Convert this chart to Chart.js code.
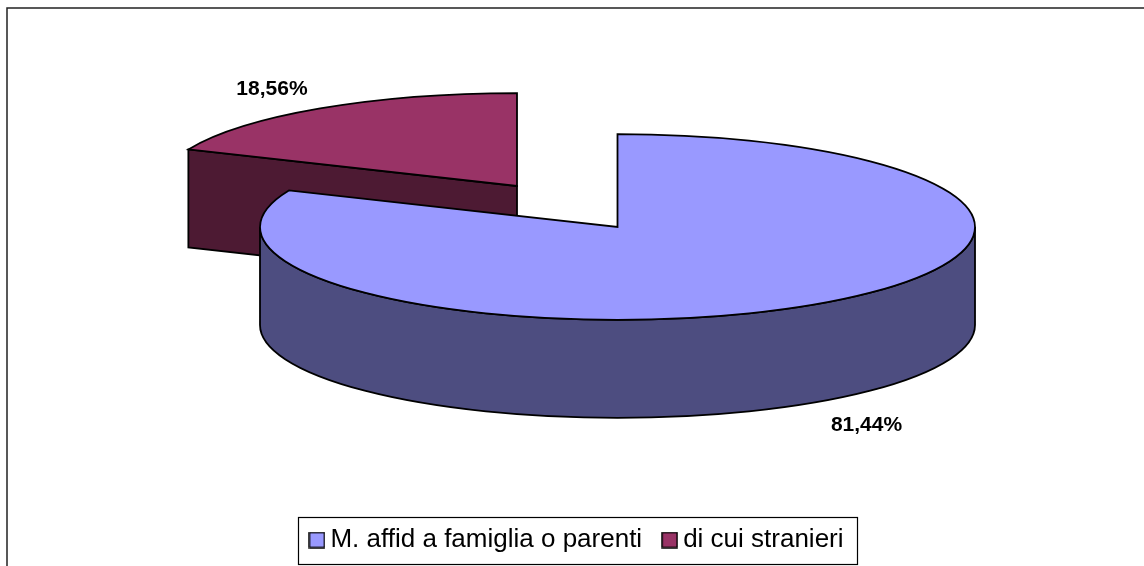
<!DOCTYPE html>
<html>
<head>
<meta charset="utf-8">
<title>Pie</title>
<script src="https://cdn.jsdelivr.net/npm/chart.js@4/dist/chart.umd.js"></script>
<style>
    html, body { margin: 0; padding: 0; background: #fff; overflow: hidden; }
    canvas { display: block; }
</style>
</head>
<body>
<canvas id="pieChart" width="1144" height="566"></canvas>
<script>
const categories = ['M. affid a famiglia o parenti', 'di cui stranieri'];
const shares = [81.44, 18.56];
const topColors = ['#9999FF', '#993366'];
const sideColors = ['#4D4D80', '#4D1A33'];

// 3D look, the library has no such thing so the plugin squashes the arcs
const tilt = 0.26;
const depth = 98;
const pullX = [0, -100.5];
const pullY = [0, -41];
const lineWidth = 1.8;

function markerFor(color) {
    const marker = document.createElement('canvas');
    marker.width = 17;
    marker.height = 17;
    const c = marker.getContext('2d');
    c.fillStyle = color;
    c.fillRect(1, 1, 15, 15);
    c.lineWidth = 1.5;
    c.strokeStyle = '#000';
    c.strokeRect(1, 1, 15, 15);
    return marker;
}

const pie3d = {
    id: 'pie3d',
    afterLayout(chart) {
        // legend sits off centre in the reference, keep it wide so it does not wrap
        chart.legend.left = 181;
        chart.legend.right = 979;
        chart.legend.top = 500;
        chart.legend.bottom = 566;
    },
    beforeDatasetsDraw(chart) {
        const ctx = chart.ctx;
        const arcs = chart.getDatasetMeta(0).data;
        const inTilt = (i, arc) => {
            ctx.translate(pullX[i], pullY[i]);
            ctx.translate(arc.x, arc.y);
            ctx.scale(1, tilt);
            ctx.translate(-arc.x, -arc.y);
        };
        const paint = (fill) => {
            ctx.fillStyle = fill;
            ctx.fill();
            ctx.lineWidth = lineWidth;
            ctx.strokeStyle = '#000';
            ctx.stroke();
        };

        // walls first, back slice before front slice
        for (let i = arcs.length - 1; i >= 0; i--) {
            const arc = arcs[i];
            const d = depth / tilt;
            const r = arc.outerRadius;

            if (Math.cos(arc.startAngle) < -1e-6) {
                ctx.save();
                inTilt(i, arc);
                const rimX = arc.x + Math.cos(arc.startAngle) * r;
                const rimY = arc.y + Math.sin(arc.startAngle) * r;
                ctx.beginPath();
                ctx.moveTo(arc.x, arc.y);
                ctx.lineTo(rimX, rimY);
                ctx.lineTo(rimX, rimY + d);
                ctx.lineTo(arc.x, arc.y + d);
                ctx.closePath();
                ctx.restore();
                paint(sideColors[i]);
            }

            const from = Math.max(arc.startAngle, 0);
            const to = Math.min(arc.endAngle, Math.PI);
            if (to > from) {
                ctx.save();
                inTilt(i, arc);
                ctx.beginPath();
                ctx.arc(arc.x, arc.y, r, from, to);
                ctx.arc(arc.x, arc.y + d, r, to, from, true);
                ctx.closePath();
                ctx.restore();
                paint(sideColors[i]);
            }
        }

        // top faces
        for (let i = arcs.length - 1; i >= 0; i--) {
            const arc = arcs[i];
            ctx.save();
            inTilt(i, arc);
            arc.draw(ctx);
            ctx.beginPath();
            ctx.moveTo(arc.x, arc.y);
            ctx.arc(arc.x, arc.y, arc.outerRadius, arc.startAngle, arc.endAngle);
            ctx.closePath();
            ctx.restore();
            ctx.lineWidth = lineWidth;
            ctx.strokeStyle = '#000';
            ctx.stroke();
        }

        // value labels
        ctx.save();
        ctx.font = 'bold 21px "Liberation Sans"';
        ctx.fillStyle = '#000';
        ctx.textAlign = 'center';
        ctx.textBaseline = 'middle';
        arcs.forEach((arc, i) => {
            const mid = (arc.startAngle + arc.endAngle) / 2;
            const reach = arc.outerRadius * 1.255;
            const x = arc.x + pullX[i] + Math.cos(mid) * reach + 2;
            let y = arc.y + pullY[i] + Math.sin(mid) * reach * tilt + 1;
            if (Math.sin(mid) > 0) y += depth + 2;
            ctx.fillText(shares[i].toFixed(2).replace('.', ',') + '%', x, y);
        });
        ctx.restore();
        return false;
    },
    afterDraw(chart) {
        const ctx = chart.ctx;
        ctx.save();
        ctx.strokeStyle = '#000';
        ctx.lineWidth = 1.2;
        ctx.strokeRect(298.5, 517.5, 559, 47);
        ctx.lineWidth = 1.5;
        ctx.strokeStyle = '#222';
        ctx.strokeRect(7, 8, 1300, 700);
        ctx.restore();
    }
};

document.addEventListener('DOMContentLoaded', () => {
    Chart.defaults.font.family = '"Liberation Sans", Arial, sans-serif';

    const pieChartCtx = document.getElementById('pieChart').getContext('2d');
    const pieChart = new Chart(pieChartCtx, {
        type: 'pie',
        data: {
            labels: categories,
            datasets: [{
                data: shares,
                backgroundColor: topColors,
                borderWidth: 0,
                hoverOffset: 0,
                radius: 357.5
            }]
        },
        options: {
            responsive: false,
            animation: false,
            events: [],
            layout: {
                padding: { left: 91, bottom: 49 }
            },
            plugins: {
                tooltip: { enabled: false },
                legend: {
                    position: 'bottom',
                    labels: {
                        color: '#000',
                        font: { size: 26 },
                        padding: 27,
                        usePointStyle: true,
                        boxWidth: 1,
                        boxHeight: 1,
                        generateLabels(chart) {
                            const items = Chart.overrides.pie.plugins.legend.labels.generateLabels(chart);
                            return items.map((item, i) => ({ ...item, pointStyle: markerFor(topColors[i]) }));
                        }
                    }
                }
            }
        },
        plugins: [pie3d]
    });
});
</script>
</body>
</html>
